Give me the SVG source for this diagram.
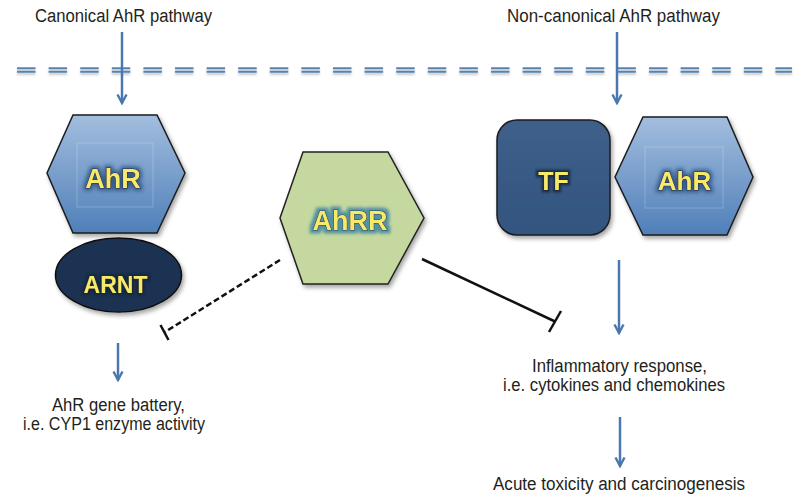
<svg xmlns="http://www.w3.org/2000/svg" width="800" height="501" viewBox="0 0 800 501">
  <defs>
    <style>
      .lbl { font-family: "Liberation Sans", Arial, sans-serif; font-size: 18px; fill: #231f20; }
      .nlbl { font-family: "Liberation Sans", Arial, sans-serif; font-weight: bold; fill: #f7e96a; stroke: #2a2a2a; stroke-width: 1; paint-order: stroke; text-anchor: middle; }
      .arrow { stroke: #4a78ae; stroke-width: 2.5; fill: none; marker-end: url(#ah); }
      .membrane { stroke: #5a82b0; stroke-width: 2; stroke-dasharray: 18.5 13.1; fill: none; }
      .hexblue { fill: url(#gBlue); stroke: #1c1c1c; stroke-width: 1.5; }
      .inner { fill: none; stroke: #ffffff; stroke-opacity: 0.22; stroke-width: 1; }
    </style>
    <linearGradient id="gBlue" x1="0" y1="0" x2="0" y2="1">
      <stop offset="0" stop-color="#a3bede"/>
      <stop offset="1" stop-color="#4f7fb9"/>
    </linearGradient>
    <linearGradient id="gTF" x1="0" y1="0" x2="0" y2="1">
      <stop offset="0" stop-color="#3d5f8a"/>
      <stop offset="1" stop-color="#33557f"/>
    </linearGradient>
    <filter id="shadow" x="-20%" y="-20%" width="140%" height="140%">
      <feDropShadow dx="2" dy="3" stdDeviation="2" flood-color="#000" flood-opacity="0.35"/>
    </filter>
    <filter id="lineShadow" x="-5%" y="-200%" width="110%" height="500%">
      <feDropShadow dx="0" dy="2" stdDeviation="1.2" flood-color="#000" flood-opacity="0.25"/>
    </filter>
    <filter id="glowBlue" x="-30%" y="-40%" width="160%" height="180%">
      <feMorphology in="SourceAlpha" operator="dilate" radius="2" result="d"/>
      <feGaussianBlur in="d" stdDeviation="2" result="b"/>
      <feFlood flood-color="#2d5282" flood-opacity="0.9"/>
      <feComposite in2="b" operator="in" result="g"/>
      <feMerge><feMergeNode in="g"/><feMergeNode in="SourceGraphic"/></feMerge>
    </filter>
    <filter id="glowTeal" x="-30%" y="-40%" width="160%" height="180%">
      <feMorphology in="SourceAlpha" operator="dilate" radius="2.5" result="d"/>
      <feGaussianBlur in="d" stdDeviation="1.5" result="b"/>
      <feFlood flood-color="#4e8ea2" flood-opacity="0.95"/>
      <feComposite in2="b" operator="in" result="g"/>
      <feMerge><feMergeNode in="g"/><feMergeNode in="SourceGraphic"/></feMerge>
    </filter>
    <filter id="glowDark" x="-30%" y="-40%" width="160%" height="180%">
      <feMorphology in="SourceAlpha" operator="dilate" radius="1.5" result="d"/>
      <feGaussianBlur in="d" stdDeviation="1.2" result="b"/>
      <feFlood flood-color="#14243a" flood-opacity="0.8"/>
      <feComposite in2="b" operator="in" result="g"/>
      <feMerge><feMergeNode in="g"/><feMergeNode in="SourceGraphic"/></feMerge>
    </filter>
    <marker id="ah" viewBox="0 0 12 12" refX="10" refY="6" markerWidth="12" markerHeight="12" markerUnits="userSpaceOnUse" orient="auto">
      <path d="M1.5,1.5 L10,6 L1.5,10.5" fill="none" stroke="#4a78ae" stroke-width="2.4"/>
    </marker>
  </defs>

  <rect x="0" y="0" width="800" height="501" fill="#ffffff"/>

  <!-- membrane -->
  <g id="membrane" filter="url(#lineShadow)">
    <line class="membrane" x1="17" y1="68.3" x2="792" y2="68.3"/>
    <line class="membrane" x1="17" y1="71.8" x2="792" y2="71.8"/>
  </g>

  <!-- labels -->
  <g id="labels">
    <text class="lbl" x="35" y="22" textLength="177" lengthAdjust="spacingAndGlyphs">Canonical AhR pathway</text>
    <text class="lbl" x="507" y="22" textLength="213" lengthAdjust="spacingAndGlyphs">Non-canonical AhR pathway</text>
    <text class="lbl" x="52" y="411" textLength="133" lengthAdjust="spacingAndGlyphs">AhR gene battery,</text>
    <text class="lbl" x="23" y="430" textLength="182" lengthAdjust="spacingAndGlyphs">i.e. CYP1 enzyme activity</text>
    <text class="lbl" x="532" y="372" font-size="17" textLength="175" lengthAdjust="spacingAndGlyphs">Inflammatory response,</text>
    <text class="lbl" x="503" y="391" font-size="17" textLength="222" lengthAdjust="spacingAndGlyphs">i.e. cytokines and chemokines</text>
    <text class="lbl" x="493" y="490" textLength="252" lengthAdjust="spacingAndGlyphs">Acute toxicity and carcinogenesis</text>
  </g>

  <!-- nodes -->
  <g id="AhR-canonical">
    <polygon class="hexblue" filter="url(#shadow)" points="73,115 157,115 185,173 157,233 73,233 47,173"/>
    <rect class="inner" x="77" y="143" width="76" height="64"/>
    <text class="nlbl" filter="url(#glowBlue)" x="113" y="188" font-size="27">AhR</text>
  </g>

  <g id="ARNT">
    <ellipse cx="118.5" cy="275" rx="63" ry="37" fill="#1f3352" stroke="#111" stroke-width="1.5" filter="url(#shadow)"/>
    <text class="nlbl" filter="url(#glowDark)" x="115.5" y="293" font-size="23">ARNT</text>
  </g>

  <g id="AhRR">
    <polygon points="303,152 388,152 424,218 388,284 303,284 280,218" fill="#c4d89f" stroke="#222" stroke-width="1.5" filter="url(#shadow)"/>
    <text class="nlbl" filter="url(#glowTeal)" x="350" y="230" font-size="27">AhRR</text>
  </g>

  <g id="TF">
    <rect x="497" y="120" width="113" height="115" rx="20" ry="20" fill="url(#gTF)" stroke="#1c1c1c" stroke-width="1.5" filter="url(#shadow)"/>
    <text class="nlbl" filter="url(#glowDark)" x="553.5" y="190" font-size="25">TF</text>
  </g>

  <g id="AhR-noncanonical">
    <polygon class="hexblue" filter="url(#shadow)" points="643,117 727,117 753,177 727,235 643,235 615,177"/>
    <rect class="inner" x="645" y="147" width="78" height="61"/>
    <text class="nlbl" filter="url(#glowBlue)" x="684.5" y="190" font-size="26">AhR</text>
  </g>

  <!-- connectors -->
  <g id="connectors">
    <line class="arrow" x1="122" y1="32" x2="122" y2="103"/>
    <line class="arrow" x1="617" y1="32" x2="617" y2="103"/>
    <line class="arrow" x1="118" y1="343" x2="118" y2="380"/>
    <line class="arrow" x1="619" y1="260" x2="619" y2="333"/>
    <line class="arrow" x1="620" y1="417" x2="620" y2="466"/>
    <!-- AhRR inhibits canonical (dashed) -->
    <line x1="280" y1="260" x2="165" y2="332" stroke="#111" stroke-width="2.5" stroke-dasharray="6 3"/>
    <line x1="160.5" y1="325" x2="168.5" y2="340" stroke="#111" stroke-width="2.5"/>
    <!-- AhRR inhibits non-canonical (solid) -->
    <line x1="422" y1="259" x2="555" y2="321.5" stroke="#111" stroke-width="2.5"/>
    <line x1="561" y1="311" x2="549" y2="332" stroke="#111" stroke-width="2.5"/>
  </g>
</svg>
